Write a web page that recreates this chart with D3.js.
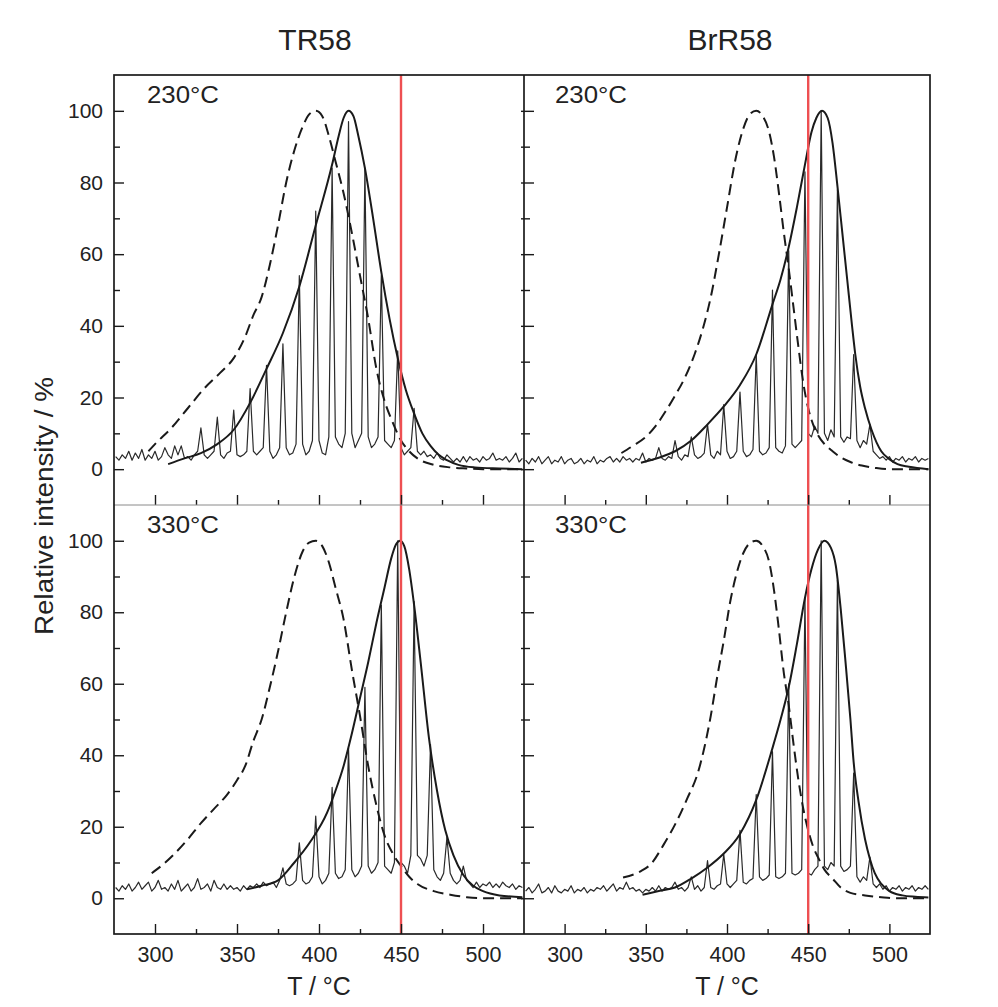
<!DOCTYPE html>
<html>
<head>
<meta charset="utf-8">
<script src="https://cdn.jsdelivr.net/npm/d3@7"></script>
<style>
  body { margin: 0; background: #fff; }
  svg text { font-family: "Liberation Sans", Arial, Helvetica, sans-serif; fill: #222; }
</style>
</head>
<body>
<svg id="chart" width="998" height="1007"></svg>
<script>
// ---------------- DATA ----------------
const samples = ["TR58", "BrR58"];
const temperatures = ["230°C", "330°C"];
const xTickValues = [300, 350, 400, 450, 500];
const xMinorTicks = [325, 375, 425, 475];
const yTickValues = [0, 20, 40, 60, 80, 100];
const yMinorTicks = [10, 30, 50, 70, 90];
const redLineT = 450;
const xLabel = "T / °C";
const yLabel = "Relative intensity / %";

// measured traces, sampled every 2 °C starting at 276 °C
const traceStartT = 276;
const traceStepT = 2;

const trace_TR58_230 = [
  3.5, 2.5, 4, 3, 5, 2.5, 4.5, 3, 5.5, 2.5,
  4, 3, 5, 2.5, 3.5, 6, 4, 3, 6.5, 4,
  6.5, 3, 3.5, 2.5, 4, 5, 11.5, 4, 3, 4,
  5, 14.5, 4, 3, 4.5, 5, 16.5, 4, 3.5, 4,
  5, 22.5, 5, 4, 5, 6, 29, 5, 3, 4,
  6, 35, 6, 4, 4.5, 7, 54, 7, 4, 5,
  8, 72, 8, 4.5, 4, 9, 84, 9, 7, 6,
  10, 97, 10, 6, 8, 10, 84, 9, 6, 7,
  9, 54, 8, 7, 6, 8, 33, 6, 4, 5,
  6, 17, 5, 4, 5, 3.5, 4, 3, 4.5, 3,
  2.5, 4, 3, 2, 3, 2, 3.5, 2, 3.5, 2.5,
  3, 2, 3.5, 2.5, 3, 4.5, 2.5, 3, 2.5, 3.5,
  2, 3, 4.5, 2, 3
];
const trace_TR58_330 = [
  3, 2, 3.5, 2.5, 4, 2, 3, 4.5, 2.5, 3.5,
  4.5, 2, 3, 5, 2.5, 3, 2, 4, 2.5, 5,
  2, 3, 4, 2, 3, 5.5, 2.5, 3, 4, 2,
  5, 3, 2.5, 4, 2.5, 3.5, 2.5, 3, 2, 3.5,
  2.5, 3.5, 3, 4, 3, 4.5, 3.5, 4, 4.5, 3,
  5, 8.5, 4, 3.5, 4, 5, 15.5, 5, 4, 4.5,
  6, 23, 6, 4, 5, 7, 31, 7, 5.5, 6,
  8, 42, 8, 6, 7, 9, 59, 9, 7, 8,
  10, 82, 9, 8, 7, 10, 100, 10, 9, 7,
  12, 83, 12, 11, 9, 12, 43, 8, 6, 5,
  7, 17, 7, 5, 4, 5, 9, 5, 4, 3,
  4.5, 3, 4, 3.5, 4.5, 3, 4, 3, 4.5, 3.5,
  3, 4, 2.5, 3.5, 3
];
const trace_BrR58_230 = [
  2.5, 1.5, 3, 2, 3.5, 1.5, 2.5, 3.5, 1.5, 2.5,
  2, 3.5, 1.5, 2.5, 3, 1.5, 2, 3, 1.5, 2.5,
  2, 3.5, 1.5, 2.5, 2, 3, 3.5, 2, 3, 2,
  3.5, 2.5, 3, 2, 3, 2.5, 4.5, 2, 3, 2.5,
  3, 6, 3, 2.5, 3.5, 3, 8, 3.5, 2.5, 4,
  3.5, 9, 4, 3, 3.5, 4.5, 12.5, 4, 3, 5,
  4, 18, 5, 3, 3.5, 5, 21.5, 5, 3.5, 4,
  5.5, 32, 5, 4, 4.5, 6, 50, 6, 5, 4.5,
  6.5, 61, 7, 6, 7, 8, 83, 10, 9, 12,
  10, 100, 10, 8, 11, 9, 78, 9, 7.5, 9,
  8.5, 32, 8, 6, 8, 7, 12.5, 5, 4, 3,
  3.5, 2.5, 3.5, 2, 3, 2.5, 3.5, 2, 3, 2.5,
  3.5, 2, 3, 2.5, 3
];
const trace_BrR58_330 = [
  2, 3, 1.5, 2.5, 4, 1.5, 2, 3, 1.5, 3.5,
  2, 1.5, 2.5, 2, 3.5, 1.5, 2.5, 2, 3, 1.5,
  2.5, 2, 3, 2.5, 3.5, 2, 3, 4, 2, 3,
  2.5, 4.5, 2.5, 3, 2, 2.5, 1.5, 2.5, 2, 3,
  2, 3.5, 2, 3, 2.5, 3, 4.5, 2.5, 3, 2,
  3, 6, 2.5, 3.5, 2, 3, 10.5, 3, 2.5, 3.5,
  4, 12.3, 4, 3, 4, 5, 19, 4.5, 4, 5,
  5.5, 29, 6, 5, 5.5, 6.5, 41, 6, 5.5, 6,
  7, 60, 7, 6.5, 7, 8, 84, 7, 6.5, 8,
  9, 100, 9, 8, 10, 9, 89, 9, 7.5, 8,
  9, 35, 6, 4.5, 6, 5, 11.5, 4, 3, 4,
  2.5, 3.5, 2, 3, 2.5, 3.5, 2, 3, 2.5, 3.5,
  2, 3, 2.5, 3.5, 2.5
];

// fitted envelopes (solid) as [T, %]
const envelope_TR58_230 = [
  [308,1.4],[318,3],[328,4.5],[338,7],[348,11],[358,18.5],[368,28],[378,38],[388,51],
  [398,68],[408,85],[412,93],[415,98],[418,100],[421,98.5],[424,93],[428,84],[433,70],
  [438,55],[443,42],[448,31],[453,22],[458,15.5],[463,10],[468,6.5],[473,4],[478,2.5],
  [485,1.2],[495,0.5],[510,0.2],[524,0]
];
const envelope_TR58_330 = [
  [356,2.5],[365,3.5],[375,5],[385,10],[395,16],[405,24],[410,30],[415,37],[420,46],
  [425,56],[430,66],[435,77],[440,87],[444,95],[447,99],[449.5,100],[452,98.5],[455,92],
  [458,82],[462,66],[467,45],[472,30],[477,19],[482,12],[488,6.5],[494,3.5],[500,2],
  [510,0.8],[524,0.3]
];
const envelope_BrR58_230 = [
  [347,1.8],[358,3.2],[368,5],[378,8],[388,12.5],[398,17.5],[408,23.5],[418,32],[428,46],
  [433,53],[438,62],[443,73],[448,85],[452,94],[455,98],[458.5,100],[462,98],[465,91],
  [468,79],[471,66],[474,53],[477,40],[479,32],[482,23],[485,17],[489,11],[495,5],
  [500,2.8],[505,1.4],[512,0.7],[524,0]
];
const envelope_BrR58_330 = [
  [348,1],[358,2],[368,3],[378,5.5],[388,8.6],[398,12.5],[408,18],[418,27.5],[428,42],
  [433,50],[438,59],[443,71],[448,84],[452,92],[456,97.5],[460,100],[464,98],[467,93],
  [470,81],[473,66],[476,50],[478,38],[481,27],[485,16.5],[488,11],[491,7],[495,4],
  [500,2],[508,0.8],[516,0.4],[524,0.2]
];

// reference curves (dashed) as [T, %]
const dashed_TR58_230 = [
  [296,5],[300,7],[310,11.5],[320,17],[330,22.5],[340,27],[348,31],[355,37],[360,43],
  [365,48],[370,57],[375,68],[380,80],[385,89],[390,95.5],[394,99],[398,100],[402,98.5],
  [406,93],[410,86],[415,77],[420,66],[425,54],[430,42],[435,28],[440,19],[445,13],
  [450,8],[455,5],[460,3],[470,1.2],[480,0.5],[490,0.2],[500,0],[524,0]
];
const dashed_TR58_330 = [
  [298,7],[305,9.5],[312,12.5],[320,16.5],[328,21],[336,25],[344,29],[350,33],[355,37],
  [360,44],[365,50],[370,59],[375,69],[380,80],[385,90],[390,97],[394,99.5],[398,100],
  [402,98.5],[406,94],[410,87],[415,78],[420,64],[425,51],[430,37],[435,26],[440,17.5],
  [445,12.5],[450,9],[455,6],[460,4],[470,2],[480,1],[490,0.3],[500,0],[524,0]
];
const dashed_BrR58_230 = [
  [335,4.5],[342,6.5],[350,9],[356,12],[362,16],[368,20.5],[374,25.5],[380,32],[385,39],
  [390,48],[395,60],[400,73],[405,86],[410,95],[414,99],[418,100],[422,98.5],[426,94],
  [429,87],[432,77],[435,66],[438,56],[441,45],[444,34],[447,24],[450,17],[453,12.5],
  [456,9.5],[460,7],[465,5],[470,3.3],[476,2],[483,1],[492,0.3],[500,0],[524,0]
];
const dashed_BrR58_330 = [
  [336,5.8],[347,7.6],[353,9.5],[361,15],[369,21.5],[375.6,28],[382,35],[386,42],[390,51],
  [394,62],[398,72],[402,83],[406,91],[410,96.5],[414,99.3],[418,100],[422,98.5],[426,94],
  [429,86],[432,75],[435,63],[438,54],[441,43],[444,33],[447,25],[450,19],[453,14.5],
  [456,11.5],[460,8],[465,5.5],[470,3],[476,1.5],[485,0.8],[495,0.3],[505,0],[524,0]
];

// ---------------- LAYOUT ----------------
const colX = [[114, 524], [524, 930]];
const rowY = [[75, 505], [505, 934]];
const xDomain = [275, 525];
const yDomain = [-10, 110];

const panels = [
  { col: 0, row: 0, trace: trace_TR58_230, env: envelope_TR58_230, dash: dashed_TR58_230 },
  { col: 0, row: 1, trace: trace_TR58_330, env: envelope_TR58_330, dash: dashed_TR58_330 },
  { col: 1, row: 0, trace: trace_BrR58_230, env: envelope_BrR58_230, dash: dashed_BrR58_230 },
  { col: 1, row: 1, trace: trace_BrR58_330, env: envelope_BrR58_330, dash: dashed_BrR58_330 }
];

const svg = d3.select("#chart");
const defs = svg.append("defs");
const ink = "#1a1a1a";

panels.forEach((p, i) => {
  const [x0, x1] = colX[p.col];
  const [y0, y1] = rowY[p.row];
  const x = d3.scaleLinear().domain(xDomain).range([x0, x1]);
  const y = d3.scaleLinear().domain(yDomain).range([y1, y0]);

  defs.append("clipPath").attr("id", "clip" + i)
    .append("rect").attr("x", x0).attr("y", y0).attr("width", x1 - x0).attr("height", y1 - y0);

  const g = svg.append("g").attr("clip-path", `url(#clip${i})`);

  const traceData = p.trace.map((v, k) => [traceStartT + k * traceStepT, v]);
  const lineLin = d3.line().x(d => x(d[0])).y(d => y(d[1]));
  const lineSmooth = d3.line().x(d => x(d[0])).y(d => y(d[1])).curve(d3.curveMonotoneX);

  g.append("path").datum(traceData).attr("d", lineLin)
    .attr("fill", "none").attr("stroke", "#2a2a2a").attr("stroke-width", 1.2)
    .attr("stroke-linejoin", "round");

  g.append("path").datum(p.dash).attr("d", lineSmooth)
    .attr("fill", "none").attr("stroke", ink).attr("stroke-width", 2)
    .attr("stroke-dasharray", "11,6");

  g.append("path").datum(p.env).attr("d", lineSmooth)
    .attr("fill", "none").attr("stroke", ink).attr("stroke-width", 2);

  g.append("line")
    .attr("x1", x(redLineT)).attr("x2", x(redLineT))
    .attr("y1", y0).attr("y2", y1)
    .attr("stroke", "#ee4f52").attr("stroke-width", 2.4);

  // y axis (left side of panel), inward ticks
  const yAxis = d3.axisLeft(y).tickValues(yTickValues).tickSize(-10).tickSizeOuter(0).tickPadding(11);
  if (p.col === 1) yAxis.tickFormat("");
  const ya = svg.append("g").attr("transform", `translate(${x0},0)`).call(yAxis);
  ya.select(".domain").remove();
  ya.selectAll("line").attr("stroke", ink).attr("stroke-width", 1.4);
  ya.selectAll("text").attr("font-size", 21).attr("font-family", null).attr("fill", "#222");

  const yMinor = d3.axisLeft(y).tickValues(yMinorTicks).tickSize(-6).tickSizeOuter(0).tickFormat("");
  const ym = svg.append("g").attr("transform", `translate(${x0},0)`).call(yMinor);
  ym.select(".domain").remove();
  ym.selectAll("line").attr("stroke", ink).attr("stroke-width", 1.4);

  if (p.col === 0) {
    const yr = d3.axisRight(y).tickValues(yTickValues.concat(yMinorTicks)).tickSize(-3).tickSizeOuter(0).tickFormat("");
    const yrg = svg.append("g").attr("transform", `translate(${x1},0)`).call(yr);
    yrg.select(".domain").remove();
    yrg.selectAll("line").attr("stroke", ink).attr("stroke-width", 1.4);
  }

  // x axis at bottom of panel, inward ticks
  const xAxis = d3.axisBottom(x).tickValues(xTickValues).tickSize(-10).tickSizeOuter(0).tickPadding(13);
  if (p.row === 0) xAxis.tickFormat("");
  const xa = svg.append("g").attr("transform", `translate(0,${y1})`).call(xAxis);
  xa.select(".domain").remove();
  xa.selectAll("line").attr("stroke", ink).attr("stroke-width", 1.4);
  xa.selectAll("text").attr("font-size", 21.5).attr("font-family", null).attr("fill", "#222");

  const xMinor = d3.axisBottom(x).tickValues(xMinorTicks).tickSize(-5).tickSizeOuter(0).tickFormat("");
  const xm = svg.append("g").attr("transform", `translate(0,${y1})`).call(xMinor);
  xm.select(".domain").remove();
  xm.selectAll("line").attr("stroke", ink).attr("stroke-width", 1.4);

  // temperature label
  svg.append("text")
    .attr("x", x0 + (p.col === 0 ? 33 : 31))
    .attr("y", y0 + 28)
    .attr("font-size", 23)
    .attr("textLength", 72).attr("lengthAdjust", "spacingAndGlyphs")
    .text(temperatures[p.row]);

  if (p.row === 0) {
    svg.append("text")
      .attr("x", p.col === 0 ? 315 : 730).attr("y", 50)
      .attr("text-anchor", "middle").attr("font-size", 30)
      .text(samples[p.col]);
  } else {
    svg.append("text")
      .attr("x", x(400)).attr("y", 995)
      .attr("text-anchor", "middle").attr("font-size", 25)
      .text(xLabel);
  }
});

// frame and separators
svg.append("line").attr("x1", 114).attr("x2", 930).attr("y1", 505).attr("y2", 505)
  .attr("stroke", "#8a8a8a").attr("stroke-width", 1);
svg.append("line").attr("x1", 524).attr("x2", 524).attr("y1", 75).attr("y2", 934)
  .attr("stroke", ink).attr("stroke-width", 1.7);
svg.append("rect").attr("x", 114).attr("y", 75).attr("width", 816).attr("height", 859)
  .attr("fill", "none").attr("stroke", ink).attr("stroke-width", 1.7);

// y axis title
svg.append("text")
  .attr("transform", "translate(53,506) rotate(-90)")
  .attr("text-anchor", "middle")
  .attr("font-size", 26)
  .attr("textLength", 258).attr("lengthAdjust", "spacingAndGlyphs")
  .text(yLabel);
</script>
</body>
</html>
